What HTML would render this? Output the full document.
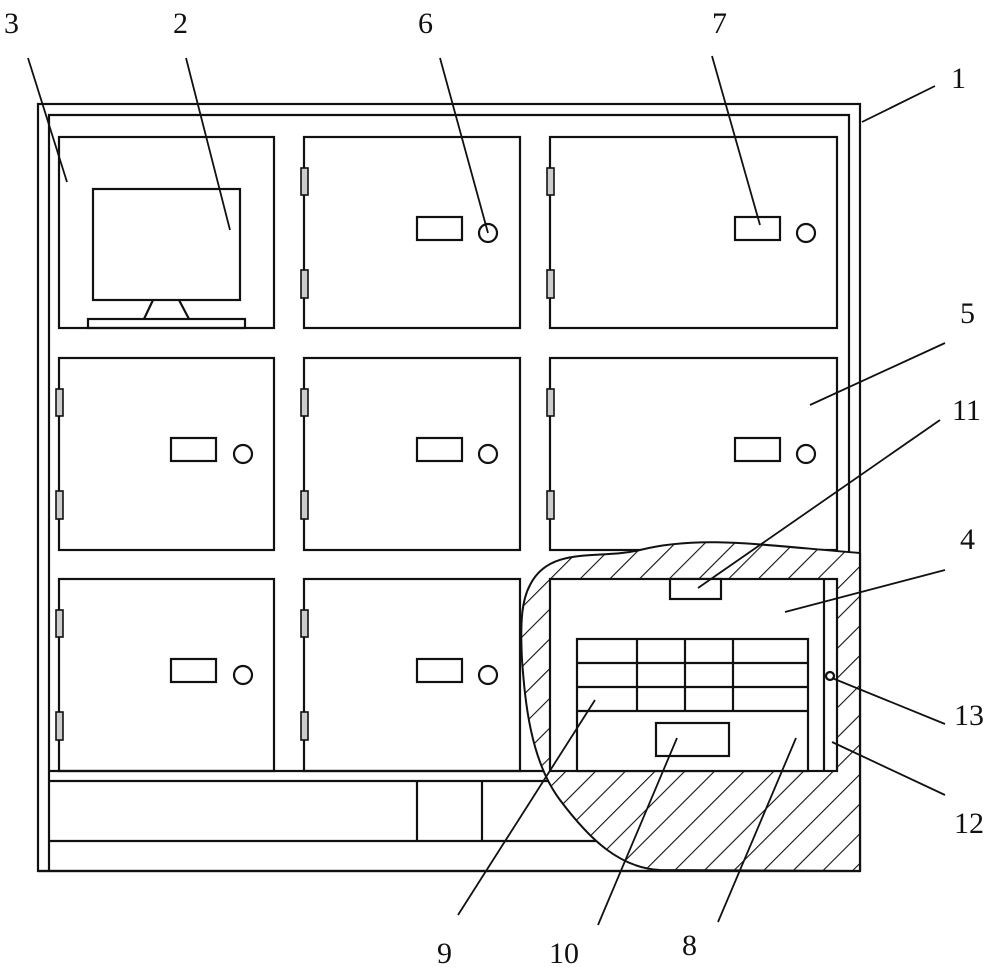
<!DOCTYPE html>
<html><head><meta charset="utf-8"><style>html,body{margin:0;padding:0;background:#fff}svg{display:block}</style></head><body>
<svg width="1000" height="972" viewBox="0 0 1000 972" xmlns="http://www.w3.org/2000/svg">
<defs>
<pattern id="h" patternUnits="userSpaceOnUse" width="21" height="21" patternTransform="rotate(45)">
<line x1="0" y1="0" x2="0" y2="21" stroke="#111" stroke-width="2.2"/>
</pattern>
<clipPath id="blob"><path d="M530,585 C550,545 600,560 640,550 C700,535 760,545 860,553 L860,871 L660,870 C620,868 590,840 560,800 C530,760 525,700 522,660 C520,620 522,600 530,585 Z"/></clipPath>
</defs>
<g fill="none" stroke="#111" stroke-width="2.2">
<rect x="38" y="104" width="822" height="767" fill="#fff"/>
<polyline points="49,871 49,115 849,115 849,553"/>
<line x1="49" y1="771" x2="860" y2="771"/>
<line x1="49" y1="781" x2="860" y2="781"/>
<line x1="49" y1="841" x2="860" y2="841"/>
<line x1="417" y1="781" x2="417" y2="841"/>
<line x1="482" y1="781" x2="482" y2="841"/>
<rect x="59" y="137" width="215" height="191"/>
<rect x="304" y="137" width="216" height="191"/>
<rect x="550" y="137" width="287" height="191"/>
<rect x="59" y="358" width="215" height="192"/>
<rect x="304" y="358" width="216" height="192"/>
<rect x="550" y="358" width="287" height="192"/>
<rect x="59" y="579" width="215" height="192"/>
<rect x="304" y="579" width="216" height="192"/>
<rect x="93" y="189" width="147" height="111"/>
<polyline points="153,300 144,319"/>
<polyline points="179,300 189,319"/>
<rect x="88" y="319" width="157" height="9"/>
<rect x="417" y="217" width="45" height="23"/><circle cx="488" cy="233" r="9"/>
<rect x="735" y="217" width="45" height="23"/><circle cx="806" cy="233" r="9"/>
<rect x="171" y="438" width="45" height="23"/><circle cx="243" cy="454" r="9"/>
<rect x="417" y="438" width="45" height="23"/><circle cx="488" cy="454" r="9"/>
<rect x="735" y="438" width="45" height="23"/><circle cx="806" cy="454" r="9"/>
<rect x="171" y="659" width="45" height="23"/><circle cx="243" cy="675" r="9"/>
<rect x="417" y="659" width="45" height="23"/><circle cx="488" cy="675" r="9"/>
</g>
<g fill="#ccc" stroke="#111" stroke-width="1.6">
<rect x="301" y="168" width="7" height="27"/><rect x="301" y="270" width="7" height="28"/>
<rect x="547" y="168" width="7" height="27"/><rect x="547" y="270" width="7" height="28"/>
<rect x="56" y="389" width="7" height="27"/><rect x="56" y="491" width="7" height="28"/>
<rect x="301" y="389" width="7" height="27"/><rect x="301" y="491" width="7" height="28"/>
<rect x="547" y="389" width="7" height="27"/><rect x="547" y="491" width="7" height="28"/>
<rect x="56" y="610" width="7" height="27"/><rect x="56" y="712" width="7" height="28"/>
<rect x="301" y="610" width="7" height="27"/><rect x="301" y="712" width="7" height="28"/>
</g>
<rect x="500" y="530" width="370" height="350" fill="#fff" clip-path="url(#blob)"/>
<rect x="500" y="530" width="370" height="350" fill="url(#h)" clip-path="url(#blob)"/>
<path d="M530,585 C550,545 600,560 640,550 C700,535 760,545 860,553 M860,871 L660,870 C620,868 590,840 560,800 C530,760 525,700 522,660 C520,620 522,600 530,585" fill="none" stroke="#111" stroke-width="2"/>
<g fill="#fff" stroke="#111" stroke-width="2.2">
<rect x="550" y="579" width="287" height="192"/>
<line x1="824" y1="579" x2="824" y2="771"/>
<rect x="670" y="579" width="51" height="20"/>
<rect x="577" y="639" width="231" height="132"/>
<line x1="577" y1="663" x2="808" y2="663"/>
<line x1="577" y1="687" x2="808" y2="687"/>
<line x1="577" y1="711" x2="808" y2="711"/>
<line x1="637" y1="639" x2="637" y2="711"/>
<line x1="685" y1="639" x2="685" y2="711"/>
<line x1="733" y1="639" x2="733" y2="711"/>
<rect x="656" y="723" width="73" height="33"/>
<circle cx="830" cy="676" r="4"/>
</g>
<line x1="860" y1="553" x2="860" y2="871" stroke="#111" stroke-width="2.2"/>
<line x1="38" y1="871" x2="860" y2="871" stroke="#111" stroke-width="2.2"/>
<g stroke="#111" stroke-width="1.8">
<line x1="28" y1="58" x2="67" y2="182"/>
<line x1="186" y1="58" x2="230" y2="230"/>
<line x1="440" y1="58" x2="488" y2="233"/>
<line x1="712" y1="56" x2="760" y2="225"/>
<line x1="935" y1="86" x2="862" y2="122"/>
<line x1="945" y1="343" x2="810" y2="405"/>
<line x1="940" y1="420" x2="698" y2="588"/>
<line x1="945" y1="570" x2="785" y2="612"/>
<line x1="945" y1="724" x2="832" y2="678"/>
<line x1="945" y1="795" x2="832" y2="742"/>
<line x1="595" y1="700" x2="458" y2="915"/>
<line x1="677" y1="738" x2="598" y2="925"/>
<line x1="796" y1="738" x2="718" y2="922"/>
</g>
<g font-family="'Liberation Serif', serif" font-size="30" fill="#111">
<text x="4" y="33">3</text>
<text x="173" y="33">2</text>
<text x="418" y="33">6</text>
<text x="712" y="33">7</text>
<text x="951" y="88">1</text>
<text x="960" y="323">5</text>
<text x="952" y="420">11</text>
<text x="960" y="549">4</text>
<text x="954" y="725">13</text>
<text x="954" y="833">12</text>
<text x="437" y="963">9</text>
<text x="549" y="963">10</text>
<text x="682" y="955">8</text>
</g>
</svg>
</body></html>
